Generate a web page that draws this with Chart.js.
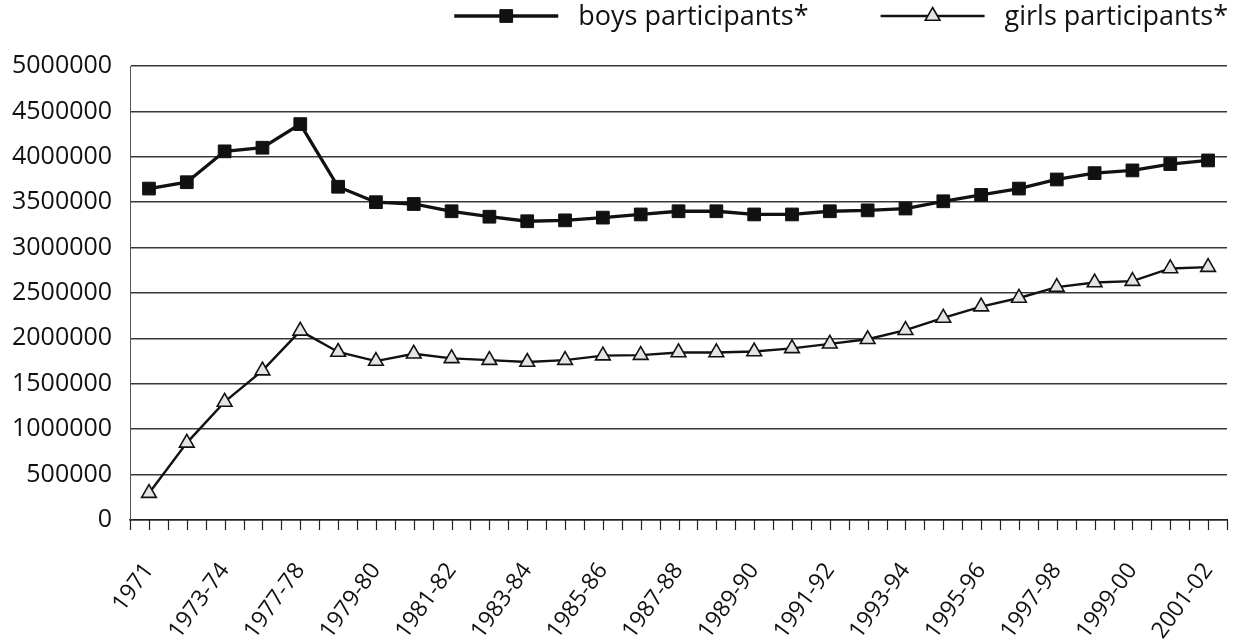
<!DOCTYPE html>
<html>
<head>
<meta charset="utf-8">
<script src="https://cdn.jsdelivr.net/npm/chart.js@4/dist/chart.umd.min.js"></script>
<style>
  body { margin: 0; background: #fff; }
  #wrap { width: 1240px; height: 642px; }
</style>
</head>
<body>
<div id="wrap"><canvas id="chart" width="1240" height="642"></canvas></div>
<script>
const seasons = ['1971', '1972-73', '1973-74', '1975-76', '1977-78', '1978-79', '1979-80', '1980-81',
  '1981-82', '1982-83', '1983-84', '1984-85', '1985-86', '1986-87', '1987-88', '1988-89', '1989-90',
  '1990-91', '1991-92', '1992-93', '1993-94', '1994-95', '1995-96', '1996-97', '1997-98', '1998-99',
  '1999-00', '2000-01', '2001-02'];

const boys = [3650000, 3720000, 4060000, 4100000, 4360000, 3670000, 3500000, 3480000, 3400000,
  3340000, 3290000, 3300000, 3330000, 3365000, 3400000, 3400000, 3365000, 3365000, 3400000,
  3410000, 3430000, 3510000, 3580000, 3650000, 3750000, 3820000, 3850000, 3920000, 3960000];

const girls = [295000, 849000, 1300000, 1645000, 2083000, 1850000, 1750000, 1830000, 1780000,
  1760000, 1740000, 1760000, 1810000, 1815000, 1845000, 1845000, 1855000, 1890000, 1940000,
  1990000, 2090000, 2225000, 2350000, 2445000, 2565000, 2615000, 2630000, 2770000, 2785000];

const seriesNames = ['boys participants*', 'girls participants*'];
const yTicks = [0, 500000, 1000000, 1500000, 2000000, 2500000, 3000000, 3500000, 4000000, 4500000, 5000000];

const FONT = '"Open Sans", Lato, sans-serif';
const INK = '#111';

function drawMarker(ctx, ds, x, y) {
  ctx.save();
  ctx.fillStyle = ds.pointBackgroundColor;
  ctx.strokeStyle = ds.pointBorderColor;
  ctx.lineWidth = ds.pointBorderWidth;
  ctx.beginPath();
  if (ds.pointStyle === 'rect') {
    let s = ds.pointRadius * Math.SQRT1_2;
    ctx.rect(x - s, y - s, 2 * s, 2 * s);
  } else {
    let r = ds.pointRadius;
    ctx.moveTo(x, y - r);
    ctx.lineTo(x + r * 0.866, y + r * 0.5);
    ctx.lineTo(x - r * 0.866, y + r * 0.5);
    ctx.closePath();
  }
  ctx.fill();
  ctx.stroke();
  ctx.restore();
}

// legend drawn at the top right: line with marker, then the series name
const topLegend = {
  id: 'topLegend',
  afterDraw(chart) {
    let ctx = chart.ctx;
    let sets = chart.data.datasets;
    ctx.save();
    ctx.font = '27px ' + FONT;
    ctx.fillStyle = INK;
    ctx.textBaseline = 'middle';
    let right = chart.width - 12;
    let y = 16;
    for (let i = sets.length - 1; i >= 0; i--) {
      let w = ctx.measureText(sets[i].label).width;
      let textX = right - w;
      ctx.fillText(sets[i].label, textX, y + 1);
      let x1 = textX - 20;
      let x0 = x1 - 104;
      ctx.strokeStyle = INK;
      ctx.lineWidth = sets[i].borderWidth;
      ctx.beginPath();
      ctx.moveTo(x0, y);
      ctx.lineTo(x1, y);
      ctx.stroke();
      drawMarker(ctx, sets[i], (x0 + x1) / 2, y);
      right = x0 - 72;
    }
    ctx.restore();
  }
};

// small tick marks on the category axis, at each category and between them
const minorTicks = {
  id: 'minorTicks',
  afterDraw(chart) {
    let x = chart.scales.x;
    let y0 = chart.scales.y.getPixelForValue(0);
    let ctx = chart.ctx;
    ctx.save();
    ctx.strokeStyle = '#222';
    ctx.lineWidth = 1.2;
    ctx.beginPath();
    for (let i = -0.5; i <= seasons.length - 0.5; i += 0.5) {
      let px = Math.round(x.getPixelForValue(i)) + 0.5;
      ctx.moveTo(px, y0);
      ctx.lineTo(px, y0 + 10);
    }
    ctx.stroke();
    ctx.restore();
  }
};

new Chart(document.getElementById('chart').getContext('2d'), {
  type: 'line',
  data: {
    labels: seasons,
    datasets: [
      {
        label: seriesNames[0],
        data: boys,
        borderColor: INK,
        borderWidth: 3.3,
        pointStyle: 'rect',
        pointRadius: 9,
        pointBackgroundColor: INK,
        pointBorderColor: INK,
        pointBorderWidth: 1,
        tension: 0
      },
      {
        label: seriesNames[1],
        data: girls,
        borderColor: INK,
        borderWidth: 2.4,
        pointStyle: 'triangle',
        pointRadius: 8.5,
        pointBackgroundColor: '#e4e4e4',
        pointBorderColor: INK,
        pointBorderWidth: 1.6,
        tension: 0
      }
    ]
  },
  options: {
    responsive: false,
    animation: false,
    devicePixelRatio: 1,
    layout: { padding: { left: -6, right: 13, top: 66, bottom: -32 } },
    plugins: {
      tooltip: { enabled: false },
      legend: { display: false }
    },
    scales: {
      x: {
        type: 'category',
        offset: true,
        grid: { display: false },
        border: { display: true, color: '#222', width: 1.5 },
        afterFit: scale => { scale.paddingRight = 0; scale.paddingLeft = 0; },
        ticks: {
          autoSkip: false,
          maxRotation: 54,
          minRotation: 54,
          padding: 30,
          color: INK,
          font: { family: FONT, size: 23 },
          callback: (v, i) => (i % 2 === 0 ? seasons[i] : '')
        }
      },
      y: {
        min: 0,
        max: 5000000,
        afterBuildTicks: scale => { scale.ticks = yTicks.map(v => ({ value: v })); },
        grid: { color: '#383838', lineWidth: 1.4, drawTicks: false },
        border: { display: true, color: '#555', width: 1 },
        ticks: {
          padding: 18,
          color: INK,
          font: { family: FONT, size: 25 },
          callback: v => String(v)
        }
      }
    }
  },
  plugins: [minorTicks, topLegend]
});
</script>
</body>
</html>
